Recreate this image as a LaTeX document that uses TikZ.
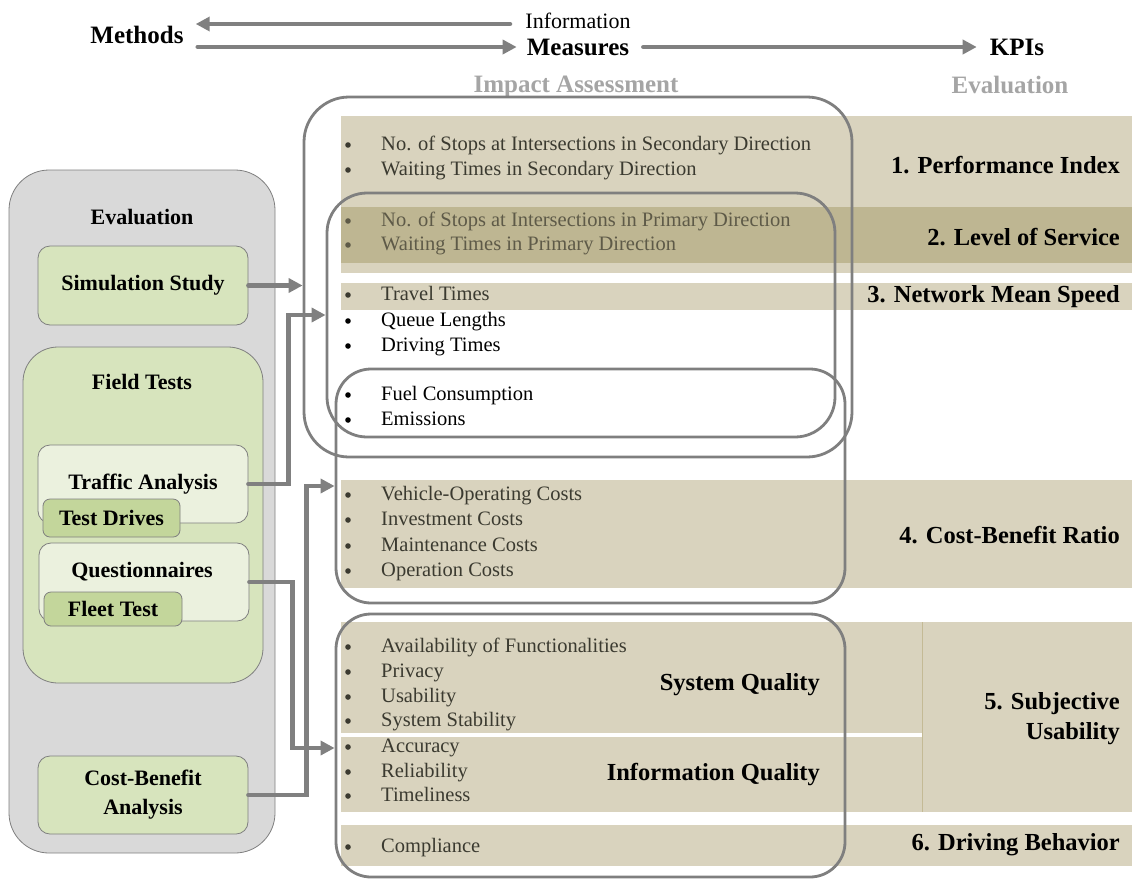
\documentclass[tikz,border=0pt]{standalone}
\usepackage{fontspec}
\setmainfont{Liberation Serif}
\usetikzlibrary{arrows.meta,positioning}
\definecolor{linegray}{HTML}{7F7F7F}
\definecolor{arrowgray}{HTML}{808080}
\definecolor{headgray}{HTML}{A5A5A5}
\definecolor{panelgray}{HTML}{D9D9D9}
\definecolor{greenmid}{HTML}{D7E4BD}
\definecolor{greenpale}{HTML}{EBF1DE}
\definecolor{greendark}{HTML}{C3D69B}
\definecolor{bandlight}{HTML}{D9D3BE}
\definecolor{banddark}{HTML}{BEB692}
\definecolor{bandtext}{HTML}{3B3A30}
\definecolor{dimtext}{HTML}{5E5A48}
\definecolor{bandrule}{HTML}{C4BA95}
\tikzset{
  every node/.append style={inner sep=0pt},
  hdr/.style={font=\fontsize{25}{30}\selectfont\bfseries},
  kpi/.style={anchor=east,align=right,font=\fontsize{24.5}{30}\selectfont\bfseries},
  item/.style={anchor=west,font=\fontsize{20.5}{25}\selectfont,text height=14pt,text depth=4pt},
  band/.style={fill=bandlight},
  grpbox/.style={draw=linegray,line width=2.8pt,rounded corners=#1},
  grpbox/.default=40pt,
  methlabel/.style={font=\fontsize{22}{29}\selectfont\bfseries,align=center},
  methbox/.style={methlabel,draw=linegray,line width=0.8pt,fill=greenmid,rounded corners=12pt},
  arr/.style={draw=arrowgray,line width=4.5pt,line cap=round,-{Triangle[length=14pt,width=14pt]}}
}

\begin{document}
\begin{tikzpicture}[x=1pt,y=-1pt]
  \useasboundingbox (0,0) rectangle (1132,879);
  % header line
  \node[hdr] (methods) at (137,35) {Methods};
  \node[font=\fontsize{22}{26}\selectfont] (info) at (578,21) {Information};
  \node[hdr] (measures) at (578,47) {Measures};
  \node[hdr] (kpis) at (1017,47) {KPIs};
  \node[hdr,text=headgray] (impact) at (576,87) {Impact Assessment};
  \node[hdr,text=headgray] (evalkpi) at (1010,85) {Evaluation};
  \coordinate (infostart) at (510,24);
  \draw[arr,shorten >=12pt] (infostart) -- (infostart -| methods.east);
  \draw[arr,shorten <=14pt,shorten >=10pt] (methods.east |- measures.west) -- (measures.west);
  \draw[arr,shorten <=14pt,shorten >=13pt] (measures.east) -- (kpis.west);

  % KPI bands
  \fill[band] (341,116) rectangle (1132,273);
  \fill[banddark] (341,207) rectangle (1132,263);
  \fill[band] (341,283) rectangle (1132,310);
  \fill[band] (341,480) rectangle (1132,588);
  \fill[band] (341,622) rectangle (1132,812);
  \draw[white,line width=4pt] (341,735) -- (922,735);
  \draw[bandrule,line width=0.8pt] (922,622) -- (922,812);
  \fill[band] (341,825) rectangle (1132,866);

  % groups of measures
  \node[grpbox=45pt,minimum width=548pt,minimum height=360pt] (bigbox) at (578,277) {};
  \node[grpbox,minimum width=508pt,minimum height=244pt] (primbox) at (581,315) {};
  \node[grpbox=35pt,minimum width=509pt,minimum height=234pt] (costbox) at (590.5,486) {};
  \node[grpbox=35pt,minimum width=509pt,minimum height=263pt] (usebox) at (590.5,745.5) {};

  % measures
  \foreach \y/\t in {145/No. of Stops at Intersections in Secondary Direction,
      170/Waiting Times in Secondary Direction, 295/Travel Times,
      495/Vehicle-Operating Costs, 520/Investment Costs, 546/Maintenance Costs,
      571/Operation Costs, 647/Availability of Functionalities, 672/Privacy,
      697/Usability, 721/System Stability, 747/Accuracy, 772/Reliability,
      796/Timeliness, 847/Compliance}{
    \fill[bandtext] (348,\y) circle (2.8pt);
    \node[item,text=bandtext] (m-\y) at (381,\y) {\t};
  }
  \foreach \y/\t in {221/No. of Stops at Intersections in Primary Direction,
      245/Waiting Times in Primary Direction}{
    \fill[dimtext] (348,\y) circle (2.8pt);
    \node[item,text=dimtext] (m-\y) at (381,\y) {\t};
  }
  \foreach \y/\t in {321/Queue Lengths, 346/Driving Times,
      395/Fuel Consumption, 420/Emissions}{
    \fill (348,\y) circle (2.8pt);
    \node[item] (m-\y) at (381,\y) {\t};
  }

  % KPIs
  \node[kpi] (pi) at (1120,165) {1. Performance Index};
  \node[kpi] (los) at (1120,237) {2. Level of Service};
  \node[kpi] (nms) at (1120,297) {3. Network Mean Speed};
  \node[kpi] (cbr) at (1120,535) {4. Cost-Benefit Ratio};
  \node[kpi] (su) at (1120,719) {5. Subjective\\Usability};
  \node[kpi] (db) at (1120,845) {6. Driving Behavior};
  \node[kpi] (sq) at (820,685) {System Quality};
  \node[kpi] (iq) at (820,775) {Information Quality};

  % evaluation methods
  \node[methbox,fill=panelgray,rounded corners=40pt,minimum width=266pt,minimum height=683pt] (evalpanel) at (142,511.5) {};
  \node[methlabel] (evaltitle) at (142,217) {Evaluation};
  \node[methbox,minimum width=210pt,minimum height=79pt] (sim) at (143,285.5) {Simulation Study};
  \node[methbox,rounded corners=35pt,minimum width=240pt,minimum height=336pt] (field) at (143,515) {};
  \node[methlabel] (fieldtitle) at (142,382) {Field Tests};
  \node[methbox,fill=greenpale,minimum width=210pt,minimum height=78pt] (traffic) at (143,484) {Traffic Analysis};
  \node[methbox,fill=greendark,rounded corners=7pt,minimum width=137pt,minimum height=38pt] (drives) at (111.5,518) {Test Drives};
  \node[methbox,fill=greenpale,minimum width=210pt,minimum height=78pt] (quest) at (144,582) {};
  \node[methlabel] (questtitle) at (142,572) {Questionnaires};
  \node[methbox,fill=greendark,rounded corners=7pt,minimum width=138pt,minimum height=34pt] (fleet) at (113,609) {Fleet Test};
  \node[methbox,minimum width=210pt,minimum height=78pt] (cba) at (143,795) {Cost-Benefit\\Analysis};

  % methods to measures
  \coordinate (trafficin) at (0,315);
  \coordinate (questin) at (0,748);
  \coordinate (cbain) at (0,486);
  \draw[arr] (sim.east) -- (sim.east -| bigbox.west);
  \draw[arr] (traffic.east) -- ++(40,0) |- (primbox.west |- trafficin);
  \draw[arr] (quest.east) -- ++(43,0) |- (usebox.west |- questin);
  \draw[arr] (cba.east) -- ++(58,0) |- (costbox.west |- cbain);
\end{tikzpicture}
\end{document}
